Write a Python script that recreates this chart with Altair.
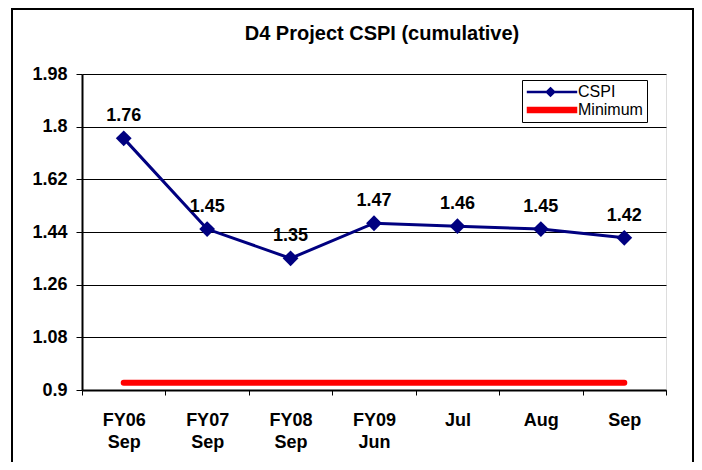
import altair as alt
import pandas as pd

# ---- data ----
categories = ["FY06 Sep", "FY07 Sep", "FY08 Sep", "FY09 Jun", "Jul", "Aug", "Sep"]
cspi_values = [1.76, 1.45, 1.35, 1.47, 1.46, 1.45, 1.42]
minimum_values = [0.925, 0.925, 0.925, 0.925, 0.925, 0.925, 0.925]
y_ticks = [0.9, 1.08, 1.26, 1.44, 1.62, 1.8, 1.98]
series_names = ["CSPI", "Minimum"]
series_colors = ["#000080", "#FF0000"]
legend_shapes = [
    "M-1.2,0H7.2M2.75,-0.6L3.35,0L2.75,0.6L2.15,0Z",
    "M-1.0,-0.35H7.0V0.35H-1.0Z",
]

FONT = "Liberation Sans"

cspi_df = pd.DataFrame({"period": categories, "value": cspi_values, "series": "CSPI"})
min_df = pd.DataFrame({"period": categories, "value": minimum_values, "series": "Minimum"})
both_df = pd.concat([cspi_df, min_df], ignore_index=True)

x_enc = alt.X(
    "period:N",
    sort=categories,
    scale=alt.Scale(type="band", paddingInner=0, paddingOuter=0),
    axis=alt.Axis(
        title=None,
        labelExpr="split(datum.label, ' ')",
        labelAngle=0,
        tickBand="extent",
        tickSize=5,
        labelPadding=16,
        labelLineHeight=22,
        grid=False,
        domainWidth=2,
        domainColor="black",
        tickColor="black",
        labelColor="black",
        labelFont=FONT,
        labelFontSize=18,
        labelFontWeight="bold",
    ),
)
y_enc = alt.Y(
    "value:Q",
    scale=alt.Scale(domain=[0.9, 1.98], nice=False, zero=False),
    axis=alt.Axis(
        title=None,
        values=y_ticks,
        labelExpr="format(datum.value, '.2~f')",
        tickSize=6,
        labelPadding=9,
        grid=True,
        gridColor="black",
        gridWidth=1,
        domainWidth=2,
        domainColor="black",
        tickColor="black",
        labelColor="black",
        labelFont=FONT,
        labelFontSize=18,
        labelFontWeight="bold",
    ),
)

frame = alt.Chart(pd.DataFrame({"frame": [0]})).mark_rect(
    fillOpacity=0, stroke="black", strokeWidth=2
).encode(
    x=alt.value(-70), x2=alt.value(611), y=alt.value(-65), y2=alt.value(420)
)

min_line = alt.Chart(min_df).mark_line(
    color="#FF0000", strokeWidth=6, strokeCap="round"
).encode(x=x_enc, y=y_enc)

cspi_line = alt.Chart(cspi_df).mark_line(color="#000080", strokeWidth=3).encode(
    x=x_enc, y=y_enc
)
cspi_pts = alt.Chart(cspi_df).mark_point(
    shape="diamond", filled=True, size=250, color="#000080", opacity=1
).encode(x=x_enc, y=y_enc)

cspi_text = alt.Chart(cspi_df).mark_text(
    dy=-17, baseline="alphabetic", fontSize=18, fontWeight="bold", font=FONT, color="black"
).encode(x=x_enc, y=y_enc, text=alt.Text("value:Q", format=".2f"))

leg = alt.Legend(
    title=None,
    orient="none",
    legendX=440,
    legendY=6,
    symbolSize=144,
    symbolStrokeWidth=2.5,
    symbolOpacity=1,
    labelFont=FONT,
    labelFontSize=16,
    labelColor="black",
    labelOffset=36,
    fillColor="white",
    strokeColor="black",
    padding=4,
    rowPadding=1,
)
legend_layer = alt.Chart(both_df).mark_point(filled=True, opacity=0, strokeWidth=2.5).encode(
    x=x_enc,
    y=y_enc,
    color=alt.Color("series:N", scale=alt.Scale(domain=series_names, range=series_colors), legend=leg),
    stroke=alt.Stroke("series:N", scale=alt.Scale(domain=series_names, range=series_colors), legend=leg),
    shape=alt.Shape("series:N", scale=alt.Scale(domain=series_names, range=legend_shapes), legend=leg),
)

chart = (
    alt.layer(frame, min_line, cspi_line, cspi_pts, cspi_text, legend_layer)
    .properties(
        width=584,
        height=316,
        autosize=alt.AutoSizeParams(type="none"),
        padding={"left": 74, "top": 66, "right": 28, "bottom": 72},
        title=alt.TitleParams(
            "D4 Project CSPI (cumulative)",
            font=FONT,
            fontSize=20,
            fontWeight="bold",
            color="black",
            anchor="middle",
            dx=8,
            offset=-52,
            baseline="alphabetic",
        ),
    )
    .configure_view(stroke="black", strokeWidth=2)
    .configure(background="white")
)

chart.save("out.html", embed_options={"renderer": "svg", "actions": False})
